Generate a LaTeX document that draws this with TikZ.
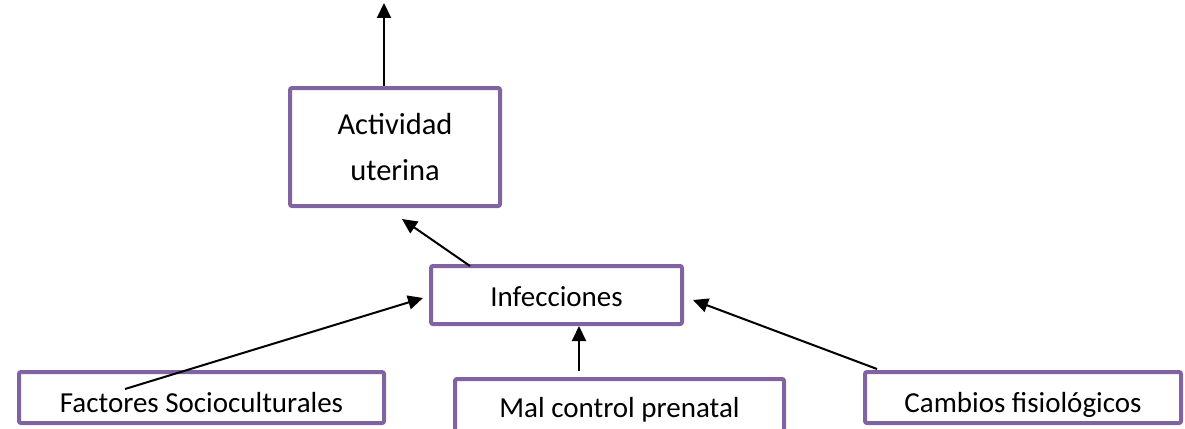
\documentclass[tikz,border=0pt]{standalone}
\usepackage{fontspec}
\setmainfont{Carlito}
\usetikzlibrary{arrows.meta}
\definecolor{boxpurple}{HTML}{8064A2}
\begin{document}
\begin{tikzpicture}[x=1pt,y=-1pt,
  box/.style={draw=boxpurple, line width=4pt, rounded corners=2pt, fill=white,
    inner sep=0pt, font=\fontsize{29}{35}\selectfont},
  link/.style={draw=black, line width=2pt, -{Triangle[length=15pt,width=14pt]}}]
\useasboundingbox (0,0) rectangle (1185,428);
\clip (0,0) rectangle (1185,428);

% boxes
\node[box, minimum width=210pt, minimum height=118pt, align=center,
  font=\fontsize{30.5}{46}\selectfont] (act) at (395,147) {Actividad\\uterina};
\node[box, minimum width=251pt, minimum height=58pt,
  text height=22pt, text depth=0pt] (inf) at (556.5,295) {Infecciones};
\node[box, minimum width=365pt, minimum height=51pt,
  text height=29pt, text depth=0pt] (fac) at (201.5,397.5) {Factores Socioculturales};
\node[box, minimum width=329pt, minimum height=71pt,
  text height=20pt, text depth=15pt] (mal) at (619.5,414.5) {Mal control prenatal};
\node[box, minimum width=316pt, minimum height=51pt,
  text height=29pt, text depth=0pt] (cam) at (1023,397.5) {Cambios fisiológicos};

% connector ends
\coordinate (upEnd) at (384,3);
\coordinate (actIn) at (402,219);
\coordinate (infOut) at (470,266);
\coordinate (facOut) at (125,389);
\coordinate (infInL) at (423,298);
\coordinate (malOut) at (579,371);
\coordinate (camOut) at (877,369);
\coordinate (infInR) at (693,300);

% connectors
\draw[link] (act.north -| upEnd) -- (upEnd);
\draw[link] (infOut) -- (actIn);
\draw[link] (facOut) -- (infInL);
\draw[link] (malOut) -- (malOut |- inf.south);
\draw[link] (camOut) -- (infInR);
\end{tikzpicture}
\end{document}
